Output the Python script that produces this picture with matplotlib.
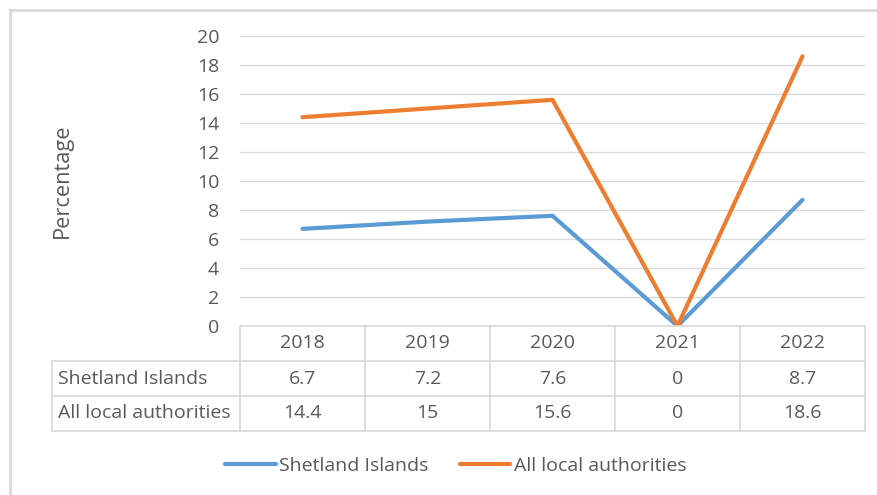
import numpy as np
import matplotlib
matplotlib.use('Agg')
from matplotlib import pyplot as plt
from matplotlib.lines import Line2D

# datos
years = ['2018', '2019', '2020', '2021', '2022']
shetland = [6.7, 7.2, 7.6, 0, 8.7]
all_la = [14.4, 15, 15.6, 0, 18.6]
series_names = ['Shetland Islands', 'All local authorities']
series_vals = [shetland, all_la]
colores = ['#5B9BD5', '#ED7D31']
yticks = np.arange(0, 21, 2)

gris = '#595959'
grid_c = '#D9D9D9'
plt.rcParams['font.family'] = ['Open Sans', 'DejaVu Sans']
fs = 14

W, H = 878, 495
fig = plt.figure(figsize=(W / 100, H / 100), dpi=100)

# area del grafico en pixeles
x0, x1 = 240, 865
y_top, y_bot = 36, 326
ax = fig.add_axes([x0 / W, 1 - y_bot / H, (x1 - x0) / W, (y_bot - y_top) / H])

k = np.arange(len(years))
for vals, name, c in zip(series_vals, series_names, colores):
    ax.plot(k, vals, color=c, lw=3, label=name, solid_capstyle='round',
            solid_joinstyle='round', zorder=3)

ax.set_xlim(-0.5, len(years) - 0.5)
ax.set_ylim(0, 20)
ax.set_yticks(yticks)
ax.set_xticks([])
ax.tick_params(axis='y', length=0, pad=15, labelsize=fs, labelcolor=gris)
ax.grid(True, axis='y', color=grid_c, lw=1)
ax.set_axisbelow(True)
for s in ax.spines.values():
    s.set_visible(False)

fig.text(62 / W, 1 - 181 / H, 'Percentage', rotation=90, ha='center',
         va='center', fontsize=15.7, color=gris)

# tabla de datos debajo del eje
row_h = 35
lab_x = 52
rows_top = [y_bot, y_bot + row_h, y_bot + 2 * row_h, y_bot + 3 * row_h]

def fx(px):
    return px / W

def fy(py):
    return 1 - py / H

col_w = (x1 - x0) / len(years)
# lineas horizontales
fig.add_artist(Line2D([fx(x0), fx(x1)], [fy(rows_top[0])] * 2, color=grid_c, lw=1.2))
for r in rows_top[1:]:
    fig.add_artist(Line2D([fx(lab_x), fx(x1)], [fy(r)] * 2, color=grid_c, lw=1.2))
# lineas verticales
fig.add_artist(Line2D([fx(lab_x)] * 2, [fy(rows_top[1]), fy(rows_top[3])], color=grid_c, lw=1.2))
for i in range(len(years) + 1):
    xx = x0 + i * col_w
    fig.add_artist(Line2D([fx(xx)] * 2, [fy(rows_top[0]), fy(rows_top[3])], color=grid_c, lw=1.2))

for i, yr in enumerate(years):
    cx = x0 + (i + 0.5) * col_w
    fig.text(fx(cx), fy(rows_top[0] + row_h / 2), yr, ha='center', va='center',
             fontsize=fs, color=gris)
    for j, vals in enumerate(series_vals):
        fig.text(fx(cx), fy(rows_top[j + 1] + row_h / 2), f'{vals[i]:g}',
                 ha='center', va='center', fontsize=fs, color=gris)
for j, name in enumerate(series_names):
    fig.text(fx(lab_x + 6), fy(rows_top[j + 1] + row_h / 2), name, ha='left',
             va='center', fontsize=fs, color=gris)

# leyenda
leg = fig.legend(loc='center', bbox_to_anchor=(fx(456), fy(466)), ncol=2,
                 frameon=False, fontsize=fs, handlelength=2.6, handletextpad=0.2,
                 columnspacing=1.6)
for t in leg.get_texts():
    t.set_color(gris)

# borde exterior
fig.add_artist(Line2D([fx(10), fx(878)], [fy(10)] * 2, color=grid_c, lw=2))
fig.add_artist(Line2D([fx(10)] * 2, [fy(10), fy(495)], color=grid_c, lw=2))

fig.savefig('out.png', dpi=100)
